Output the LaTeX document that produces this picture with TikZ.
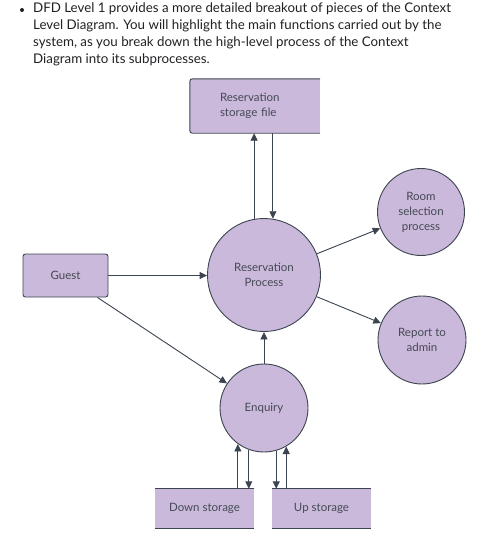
\documentclass[tikz,border=0pt]{standalone}
\usepackage{fontspec}
\setmainfont{Lato}
\usetikzlibrary{arrows.meta}
\definecolor{lav}{HTML}{CBB9DB}
\definecolor{edge}{HTML}{3B4450}
\definecolor{ink}{HTML}{444955}
\definecolor{body}{HTML}{202124}
\begin{document}
\begin{tikzpicture}[x=1pt,y=-1pt]
\tikzstyle{every node}=[font=\fontsize{11.5}{15}\selectfont,text=ink];
\tikzstyle{proc}=[draw=edge,fill=lav,shape=circle,line width=0.9pt,align=center,inner sep=0pt];
\tikzstyle{entity}=[draw=edge,fill=lav,rounded corners=2.5pt,line width=0.9pt,inner sep=0pt];
\tikzstyle{store}=[fill=lav,inner sep=0pt];
\tikzstyle{flow}=[draw=edge,line width=0.9pt,-{Triangle[length=7.5pt,width=7pt]}];
\useasboundingbox (0,0) rectangle (487,538);

% intro text
\node[fill=body,circle,inner sep=0pt,minimum size=4pt] (dot) at (22,10) {};
\node[anchor=north west,align=left,inner sep=0pt,text=body,font=\fontsize{13.3}{17}\selectfont] (intro) at (33,3)
{DFD Level 1 provides a more detailed breakout of pieces of the Context\\
Level Diagram. You will highlight the main functions carried out by the\\
system, as you break down the high-level process of the Context\\
Diagram into its subprocesses.};

% stores and entity
\node[store,minimum width=130pt,minimum height=54pt,text width=70pt,align=left] (resfile) at (255,106) {Reservation\\storage file};
\draw[draw=edge,line width=0.9pt,rounded corners=2.5pt] (resfile.north east) -- (resfile.north west) -- (resfile.south west) -- (resfile.south east);
\node[entity,minimum width=85pt,minimum height=43pt] (guest) at (65.5,275.5) {Guest};
\node[store,minimum width=99pt,minimum height=39pt] (down) at (204.5,508.5) {Down storage};
\node[store,minimum width=99pt,minimum height=39pt] (up) at (321.5,508.5) {Up storage};
\draw[draw=edge,line width=0.9pt] (down.north west) -- (down.north east) (down.south west) -- (down.south east);
\draw[draw=edge,line width=0.9pt] (up.north west) -- (up.north east) (up.south west) -- (up.south east);

% processes
\node[proc,minimum size=113pt] (resproc) at (264,275) {Reservation\\Process};
\node[proc,minimum size=87pt] (room) at (421,212) {Room\\selection\\process};
\node[proc,minimum size=88pt] (report) at (422,340) {Report to\\admin};
\node[proc,minimum size=88pt] (enq) at (264,408) {Enquiry};

% flows
\draw[flow] (resproc.100) -- (resproc.100 |- resfile.south);
\draw[flow] (resproc.81 |- resfile.south) -- (resproc.81);
\draw[flow] (guest.east) -- (resproc.west |- guest.east);
\draw[flow] ([xshift=-11pt]guest.south east) -- (enq);
\draw[flow] (enq.north) -- (resproc.south);
\draw[flow] (resproc) -- (room);
\draw[flow] (resproc) -- (report);
\draw[flow] (enq.234 |- down.north) -- (enq.234);
\draw[flow] (enq.250) -- (enq.250 |- down.north);
\draw[flow] (enq.286) -- (enq.286 |- up.north);
\draw[flow] (enq.300 |- up.north) -- (enq.300);
\end{tikzpicture}
\end{document}
